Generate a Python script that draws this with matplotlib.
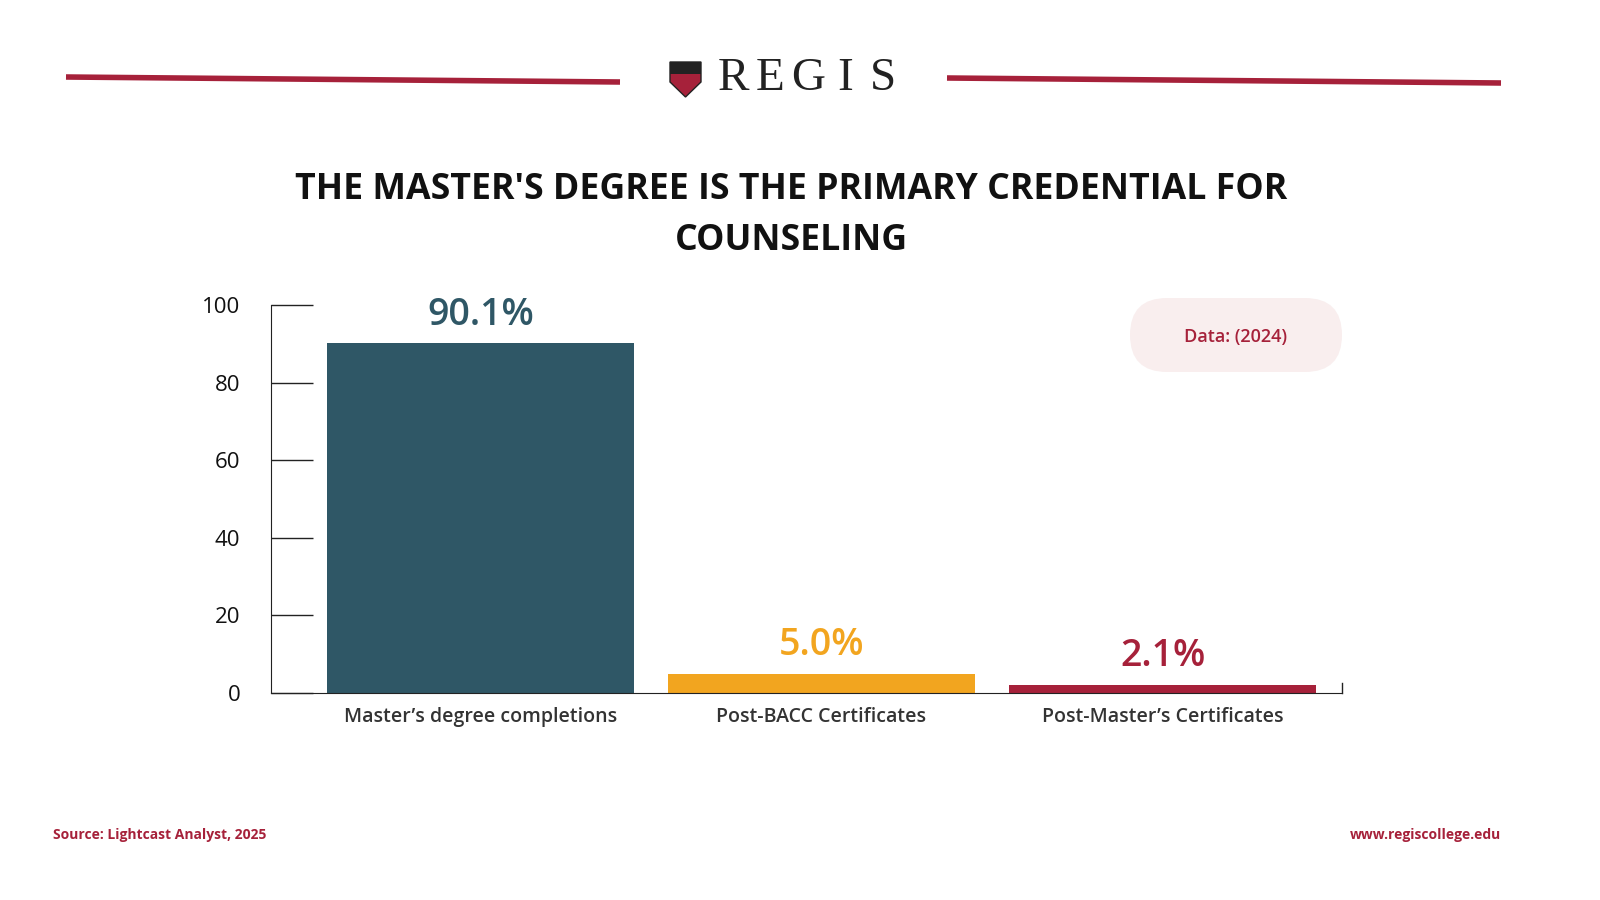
import matplotlib.pyplot as plt
from matplotlib.patches import FancyBboxPatch, Polygon

categories = ["Master\u2019s degree completions", "Post-BACC Certificates", "Post-Master\u2019s Certificates"]
values = [90.1, 5.0, 2.1]
value_labels = ["90.1%", "5.0%", "2.1%"]
colors = ["#2F5766", "#F2A51F", "#A6213A"]
yticks = [0, 20, 40, 60, 80, 100]

red = "#A6213A"
plt.rcParams['font.family'] = ['Open Sans', 'DejaVu Sans']

fig = plt.figure(figsize=(16, 9), dpi=100)
fig.patch.set_facecolor("white")

def fx(px):
    return px / 1600.0

def fy(py):
    return 1 - py / 900.0

# overlay in pixel coordinates for decorations
deco = fig.add_axes([0, 0, 1, 1], zorder=-1)
deco.set_xlim(0, 1600)
deco.set_ylim(900, 0)
deco.axis("off")

deco.plot([66, 620], [77, 82], color=red, lw=4, solid_capstyle="butt")
deco.plot([947, 1501], [78, 83], color=red, lw=4, solid_capstyle="butt")
deco.add_patch(Polygon([(670, 62), (701, 62), (701, 82), (685.5, 97), (670, 82)],
                       closed=True, facecolor=red, edgecolor="#222222", lw=1))
deco.add_patch(Polygon([(670, 62), (701, 62), (701, 74), (670, 74)],
                       closed=True, facecolor="#222222", edgecolor="none"))
for i, ch in enumerate("REGIS"):
    deco.text(733 + i * 37.5, 79, ch, family="Liberation Serif", fontsize=34,
              ha="center", va="center", color="#222222")

deco.add_patch(FancyBboxPatch((1167, 298), 139, 74,
                              boxstyle="round,pad=0,rounding_size=37",
                              facecolor="#F9EEEE", edgecolor="none"))
deco.add_patch(FancyBboxPatch((1130, 298), 212, 74,
                              boxstyle="round,pad=0,rounding_size=37",
                              facecolor="#F9EEEE", edgecolor="none"))
deco.text(1236, 337, "Data: (2024)", ha="center", va="center",
          fontsize=13, fontweight="semibold", color=red)

# title
fig.text(fx(791), fy(190), "THE MASTER'S DEGREE IS THE PRIMARY CREDENTIAL FOR",
         ha="center", va="center", fontsize=25.7, fontweight="bold", color="#111111")
fig.text(fx(791), fy(241), "COUNSELING",
         ha="center", va="center", fontsize=25.7, fontweight="bold", color="#111111")

ax = fig.add_axes([fx(271), fy(693), fx(1342) - fx(271), fy(305) - fy(693)])
ax.patch.set_alpha(0)
x = range(len(values))
ax.bar(x, values, width=0.9, color=colors)
for i, v in enumerate(values):
    ax.text(i, v + 2.5, value_labels[i], ha="center", va="bottom",
            fontsize=27, fontweight="semibold", color=colors[i])
ax.set_xlim(-0.614, 2.526)
ax.set_ylim(0, 100)
ax.set_yticks(yticks)
ax.set_yticklabels([str(t) for t in yticks], fontsize=16, color="#111111")
ax.tick_params(axis="y", direction="in", length=30, width=1, pad=22, color="#222222")
ax.set_xticks(list(x))
ax.set_xticklabels(categories, fontsize=14, fontweight="semibold", color="#333333")
ax.tick_params(axis="x", length=0, pad=10)
for s in ["top", "right"]:
    ax.spines[s].set_visible(False)
ax.spines["left"].set_color("#222222")
ax.spines["bottom"].set_color("#222222")
ax.plot([2.526, 2.526], [0, 2.5], color="#222222", lw=1, clip_on=False)

# footer
fig.text(fx(53), fy(835), "Source: Lightcast Analyst, 2025", ha="left", va="center",
         fontsize=10, fontweight="bold", color=red)
fig.text(fx(1501), fy(835), "www.regiscollege.edu", ha="right", va="center",
         fontsize=10, fontweight="bold", color=red)

fig.savefig("out.png", dpi=100)
